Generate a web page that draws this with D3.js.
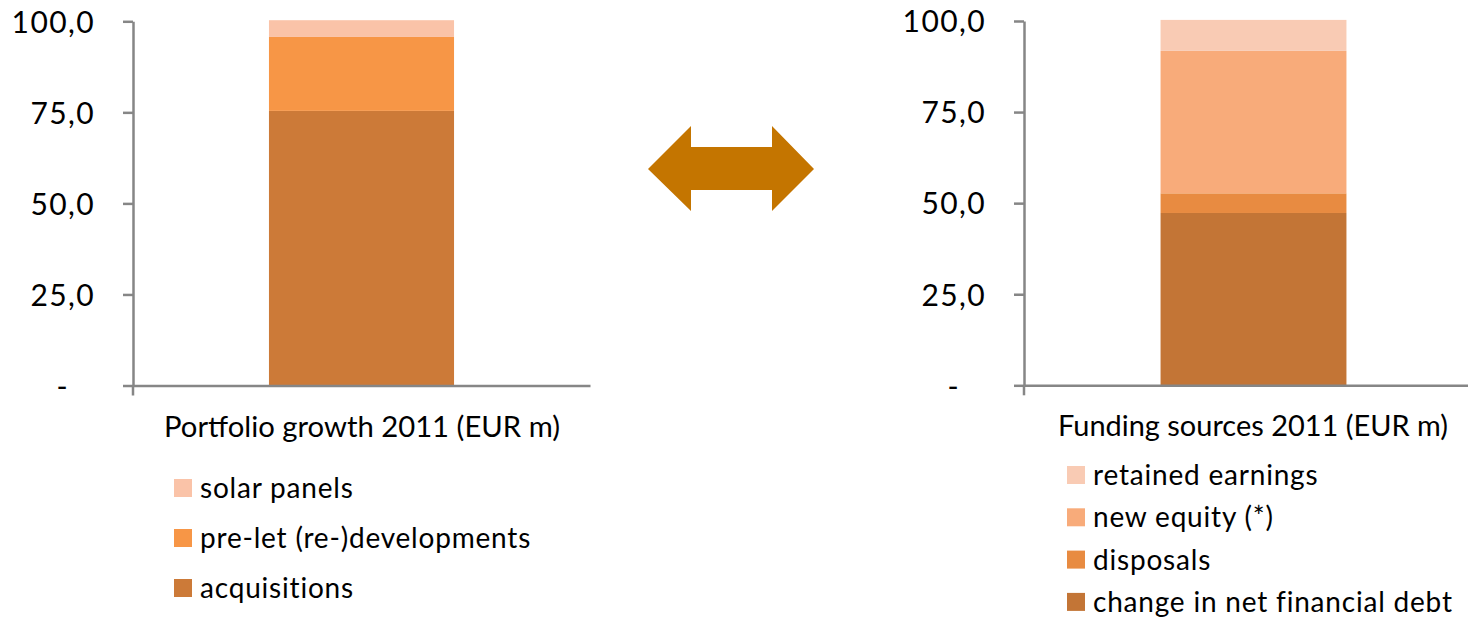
<!DOCTYPE html>
<html>
<head>
<meta charset="utf-8">
<script src="https://cdn.jsdelivr.net/npm/d3@7"></script>
<style>
  html, body { margin: 0; padding: 0; background: #ffffff; }
  svg { display: block; }
  text { font-family: Lato, "Open Sans", sans-serif; fill: #000; }
</style>
</head>
<body>
<svg id="chart" width="1468" height="619"></svg>
<script>
// Stacked components, bottom to top (EUR m, scaled to 100)
const growthSeries = ["acquisitions", "pre-let (re-)developments", "solar panels"];
const growthValues = [75.4, 20.3, 4.6];
const growthColors = ["#CC7A38", "#F79646", "#FAC3A8"];

const fundingSeries = ["change in net financial debt", "disposals", "new equity (*)", "retained earnings"];
const fundingValues = [47.3, 5.4, 39.1, 8.5];
const fundingColors = ["#C37536", "#E88B41", "#F8AB7A", "#F9CBB4"];

const yTicks = [0, 25, 50, 75, 100];
const growthTitle = "Portfolio growth 2011 (EUR m)";
const fundingTitle = "Funding sources 2011 (EUR m)";

const svg = d3.select("#chart");
const fmt = v => v === 0 ? "-" : d3.format(".1f")(v).replace(".", ",");

function stackedPanel(opt) {
  const g = svg.append("g");
  const y = d3.scaleLinear().domain([0, 100]).range([opt.y0, opt.y1]);
  const x = d3.scaleBand().domain([opt.title]).range([opt.x0, opt.x1]).padding(0.4235);

  // stacked segments
  let acc = 0;
  const segs = opt.values.map((v, i) => {
    const s = { lo: acc, hi: acc + v, color: opt.colors[i], name: opt.series[i] };
    acc += v;
    return s;
  });
  g.selectAll("rect.seg").data(segs).join("rect")
    .attr("class", "seg")
    .attr("x", x(opt.title))
    .attr("width", x.bandwidth())
    .attr("y", d => y(d.hi))
    .attr("height", d => y(d.lo) - y(d.hi))
    .attr("fill", d => d.color);

  // value axis
  const ya = g.append("g").attr("transform", `translate(${opt.x0},0)`)
    .call(d3.axisLeft(y).tickValues(yTicks).tickSize(10).tickSizeOuter(0).tickPadding(28).tickFormat(fmt));
  ya.select(".domain").attr("stroke", "#868686").attr("stroke-width", 2.5);
  ya.selectAll(".tick line").attr("stroke", "#868686").attr("stroke-width", 2.5);
  ya.selectAll(".tick text")
    .style("font-size", "30px")
    .style("letter-spacing", "1.4px")
    .attr("fill", "#000")
    .attr("dy", "0.36em")
    .attr("dx", d => d === 0 ? -26 : 0);

  // category axis
  const xa = g.append("g").attr("transform", `translate(0,${opt.y0})`)
    .call(d3.axisBottom(x).tickSize(0).tickSizeOuter(0).tickFormat(""));
  xa.select(".domain").attr("stroke", "#868686").attr("stroke-width", 2.5);
  g.append("line")
    .attr("x1", opt.x0).attr("x2", opt.x0)
    .attr("y1", opt.y0).attr("y2", opt.y0 + 10)
    .attr("stroke", "#868686").attr("stroke-width", 2.5);

  // title below the axis
  g.append("text")
    .attr("x", opt.titleX).attr("y", opt.titleY)
    .attr("textLength", opt.titleW).attr("lengthAdjust", "spacingAndGlyphs")
    .style("font-size", "28px")
    .text(opt.title);

  // legend, top segment first
  const leg = segs.slice().reverse();
  const items = g.selectAll("g.leg").data(leg).join("g")
    .attr("class", "leg")
    .attr("transform", (d, i) => `translate(${opt.legX},${opt.legY + i * opt.legStep})`);
  items.append("rect").attr("x", 0).attr("y", 0).attr("width", 18).attr("height", 18).attr("fill", d => d.color);
  items.append("text").attr("x", 26).attr("y", 19)
    .style("font-size", "28px")
    .style("letter-spacing", "0.8px")
    .text(d => d.name);
}

stackedPanel({
  title: growthTitle, series: growthSeries, values: growthValues, colors: growthColors,
  x0: 133, x1: 590, y0: 385.5, y1: 21.3,
  titleX: 164, titleY: 437, titleW: 396,
  legX: 174, legY: 479, legStep: 50
});

stackedPanel({
  title: fundingTitle, series: fundingSeries, values: fundingValues, colors: fundingColors,
  x0: 1024, x1: 1483, y0: 385.3, y1: 21,
  titleX: 1058, titleY: 436, titleW: 390,
  legX: 1067, legY: 466, legStep: 42.3
});

// double-headed arrow between the two panels
const arrowPts = [[648, 169], [691, 126], [691, 147], [772, 147], [772, 126], [814, 169],
                  [772, 211], [772, 190], [691, 190], [691, 211]];
svg.append("path")
  .attr("d", d3.line()(arrowPts) + "Z")
  .attr("fill", "#C47500");
</script>
</body>
</html>
